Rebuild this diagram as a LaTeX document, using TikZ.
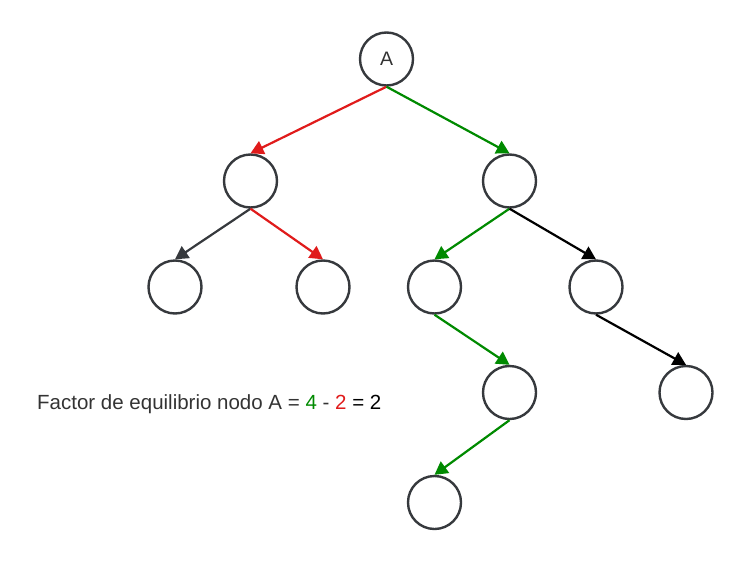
\documentclass[tikz,border=0pt]{standalone}
\usepackage{fontspec}
\setmainfont{Liberation Sans}
\usetikzlibrary{arrows.meta}
\definecolor{nodegray}{HTML}{36393D}
\definecolor{edgered}{HTML}{E01B1B}
\definecolor{edgegreen}{HTML}{008A00}
\definecolor{textgray}{HTML}{333333}
\tikzset{
  treenode/.style={circle, draw=nodegray, line width=2.4pt, minimum size=53pt,
    inner sep=0pt, font=\fontsize{19.5}{23}\selectfont, text=textgray},
  link/.style={line width=2.2pt, -{Triangle[length=13pt,width=14pt]}},
}
\begin{document}
\begin{tikzpicture}[x=1pt,y=-1pt]
  \useasboundingbox (0,0) rectangle (746,562);
  % tree nodes
  \node[treenode] (A)    at (386.5, 59)  {A};
  \node[treenode] (L)    at (250.5, 181) {};
  \node[treenode] (R)    at (509.5, 181) {};
  \node[treenode] (LL)   at (175, 287)   {};
  \node[treenode] (LR)   at (323, 287)   {};
  \node[treenode] (RL)   at (434.5, 287) {};
  \node[treenode] (RR)   at (596, 287)   {};
  \node[treenode] (RLR)  at (509.5, 392.5) {};
  \node[treenode] (RRR)  at (686, 392.5) {};
  \node[treenode] (RLRL) at (434.5, 502.5) {};
  % edges
  \draw[link, edgered]   (A.south)   -- (L.north);
  \draw[link, edgegreen] (A.south)   -- (R.north);
  \draw[link, nodegray]  (L.south)   -- (LL.north);
  \draw[link, edgered]   (L.south)   -- (LR.north);
  \draw[link, edgegreen] (R.south)   -- (RL.north);
  \draw[link, black]     (R.south)   -- (RR.north);
  \draw[link, edgegreen] (RL.south)  -- (RLR.north);
  \draw[link, black]     (RR.south)  -- (RRR.north);
  \draw[link, edgegreen] (RLR.south) -- (RLRL.north);
  % balance factor caption
  \node[anchor=base west, inner sep=0pt, font=\fontsize{20.5}{24}\selectfont, text=textgray]
    (caption) at (37, 409)
    {Factor de equilibrio nodo A = \textcolor{edgegreen}{4} - \textcolor{edgered}{2} \textcolor{black}{= 2}};
\end{tikzpicture}
\end{document}
